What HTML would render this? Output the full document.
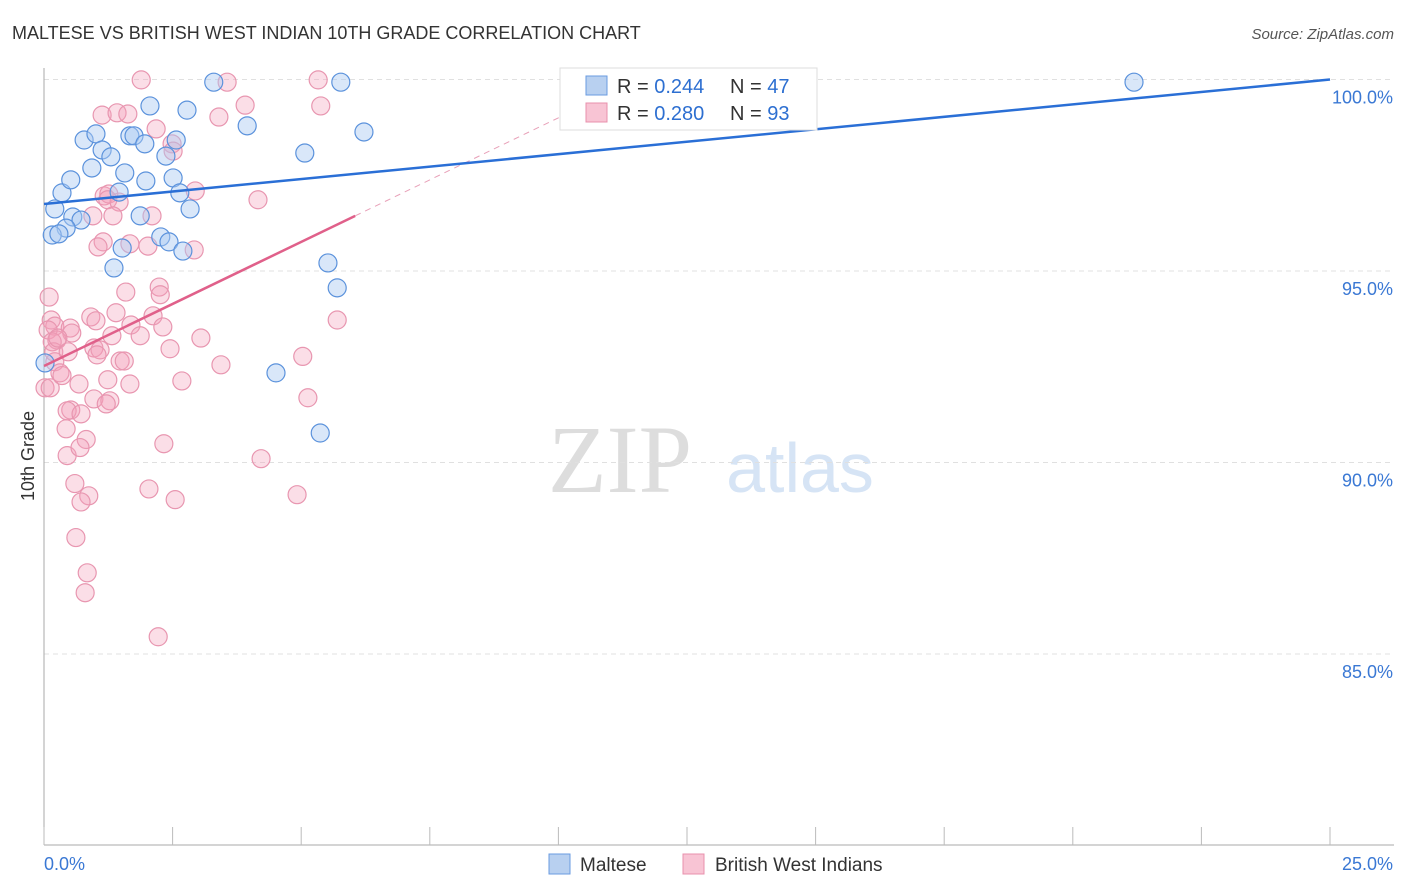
<!DOCTYPE html>
<html><head><meta charset="utf-8"><style>
body{margin:0;background:#fff;font-family:"Liberation Sans",sans-serif;}
svg{display:block}
</style></head><body>
<svg id="c" width="1406" height="892">
<text x="12" y="39" font-size="18" fill="#333">MALTESE VS BRITISH WEST INDIAN 10TH GRADE CORRELATION CHART</text>
<text x="1394" y="39" font-size="15" fill="#555" text-anchor="end" font-style="italic">Source: ZipAtlas.com</text>
<text transform="translate(34,456) rotate(-90)" font-size="18" fill="#333" text-anchor="middle">10th Grade</text>
<text x="620" y="492" font-size="96" fill="#ddd" font-family="Liberation Serif,serif" text-anchor="middle">ZIP</text>
<text x="800" y="492" font-size="70" fill="#d6e4f5" text-anchor="middle">atlas</text>
<g id="grid"></g><g id="marks"></g>
<g>
<rect x="560" y="68" width="257" height="62" fill="#fff" stroke="#ddd"/>
<rect x="586" y="76" width="21" height="19" fill="#b8d0f0" stroke="#6a9be0"/>
<rect x="586" y="103" width="21" height="19" fill="#f8c4d4" stroke="#e890ac"/>
<text x="617" y="93" font-size="20" fill="#333">R = <tspan fill="#2d6fd1">0.244</tspan></text>
<text x="730" y="93" font-size="20" fill="#333">N = <tspan fill="#2d6fd1">47</tspan></text>
<text x="617" y="120" font-size="20" fill="#333">R = <tspan fill="#2d6fd1">0.280</tspan></text>
<text x="730" y="120" font-size="20" fill="#333">N = <tspan fill="#2d6fd1">93</tspan></text>
</g>
<g>
<rect x="549" y="854" width="21" height="20" fill="#b8d0f0" stroke="#6a9be0"/>
<text x="580" y="871" font-size="19" fill="#333">Maltese</text>
<rect x="683" y="854" width="21" height="20" fill="#f8c4d4" stroke="#e890ac"/>
<text x="715" y="871" font-size="19" fill="#333">British West Indians</text>
</g>
</svg>
<script>
const xTicks=[0,25];
const yTicks=[85,90,95,100];
const blueX=[3.30,5.77,21.19,2.06,2.78,3.95,6.22,0.78,1.01,1.67,1.75,1.96,2.57,1.13,1.30,2.37,5.07,0.93,1.57,1.98,2.51,0.35,0.52,1.46,2.64,0.21,2.84,1.87,0.56,0.72,0.43,0.16,0.29,2.27,2.43,1.52,2.70,1.36,5.52,5.70,4.51,5.37,0.02];
const blueY=[99.93,99.93,99.93,99.31,99.20,98.79,98.63,98.42,98.58,98.53,98.53,98.32,98.42,98.16,97.98,98.00,98.08,97.69,97.56,97.35,97.43,97.04,97.38,97.06,97.04,96.62,96.62,96.44,96.41,96.33,96.12,95.94,95.97,95.89,95.76,95.60,95.52,95.08,95.21,94.56,92.34,90.77,92.60];
const pinkX=[1.89,3.56,5.33,3.91,5.38,3.40,1.13,1.42,1.63,2.18,2.49,2.51,1.17,1.26,1.24,1.46,1.34,0.95,2.10,2.94,4.16,1.15,1.05,1.67,2.02,2.92,2.24,2.26,1.59,0.10,0.91,1.01,1.40,2.12,5.70,0.14,0.21,0.08,0.51,0.54,1.69,2.31,1.32,1.87,3.05,0.25,0.16,0.97,1.09,1.03,2.45,5.03,1.48,1.56,3.44,0.21,0.31,1.24,2.68,1.67,0.02,0.12,0.35,0.68,0.97,1.28,1.21,0.52,0.45,0.72,5.13,0.43,0.82,0.45,0.70,2.33,4.22,0.60,0.87,0.72,2.04,2.55,4.92,0.62,0.84,0.80,2.22,0.19,0.27,0.47];
const pinkY=[99.99,99.93,99.99,99.33,99.31,99.02,99.07,99.13,99.10,98.71,98.32,98.13,96.96,97.01,96.86,96.80,96.44,96.44,96.44,97.09,96.86,95.76,95.63,95.71,95.65,95.55,94.58,94.38,94.45,94.32,93.80,93.70,93.91,93.83,93.72,93.72,93.56,93.46,93.51,93.38,93.59,93.54,93.31,93.31,93.25,93.20,93.15,92.99,92.94,92.81,92.97,92.77,92.65,92.65,92.55,92.63,92.34,92.16,92.13,92.05,91.95,91.95,92.27,92.05,91.66,91.61,91.53,91.37,91.35,91.27,91.69,90.88,90.60,90.18,90.39,90.49,90.10,89.45,89.13,88.97,89.31,89.03,89.16,88.04,87.12,86.60,85.45,92.89,93.25,92.89];
const blueTrend=[96.75,100.0];
const pinkTrend=[92.52,96.44,6.05];
const NS='http://www.w3.org/2000/svg';
const X=v=>44+v/25*1286;
const Y=v=>79.5+(100-v)*38.3;
function mk(t,a,p){const e=document.createElementNS(NS,t);for(const k in a)e.setAttribute(k,a[k]);p.appendChild(e);return e;}
const g=document.getElementById('grid'),m=document.getElementById('marks');
yTicks.forEach(v=>{
 const l=mk('line',{x1:44,x2:1394,y1:Y(v),y2:Y(v),stroke:'#e0e0e0','stroke-dasharray':'5,4'},g);
 
 
 const t=mk('text',{x:1393,y:Y(v)+24,'font-size':18,fill:'#3a78d4','text-anchor':'end'},g);
 t.textContent=v.toFixed(1)+'%';
 
 
});
mk('line',{x1:44,x2:44,y1:68,y2:845,stroke:'#aaa'},g);
mk('line',{x1:44,x2:1394,y1:845,y2:845,stroke:'#aaa'},g);
for(let i=0;i<=10;i++){mk('line',{x1:44+i*128.6,x2:44+i*128.6,y1:827,y2:845,stroke:'#bbb'},g);}
xTicks.forEach((v,i)=>{
 const t=mk('text',{x:i?1393:44,y:870,'font-size':18,fill:'#3a78d4','text-anchor':i?'end':'start'},g);
 t.textContent=v.toFixed(1)+'%';
 
 
});
pinkX.forEach((x,i)=>{
 const c=mk('circle',{cx:X(x),cy:Y(pinkY[i]),r:9,fill:'rgba(244,160,186,0.35)',stroke:'#e896b0','stroke-width':1.2},m);
 
 
});
blueX.forEach((x,i)=>{
 const c=mk('circle',{cx:X(x),cy:Y(blueY[i]),r:9,fill:'rgba(170,202,242,0.45)',stroke:'#5b92dc','stroke-width':1.2},m);
 
 
});
const slope=(pinkTrend[1]-pinkTrend[0])/pinkTrend[2];
const d=mk('line',{x1:X(pinkTrend[2]),y1:Y(pinkTrend[1]),x2:X(10.2),y2:Y(pinkTrend[0]+slope*10.2),stroke:'#e8a0b8','stroke-dasharray':'6,5'},m);


const pl=mk('line',{x1:X(0),y1:Y(pinkTrend[0]),x2:X(pinkTrend[2]),y2:Y(pinkTrend[1]),stroke:'#e0608a','stroke-width':2.5},m);


const bl=mk('line',{x1:X(0),y1:Y(blueTrend[0]),x2:X(25),y2:Y(blueTrend[1]),stroke:'#2a6fd6','stroke-width':2.5},m);


</script>
</body></html>
